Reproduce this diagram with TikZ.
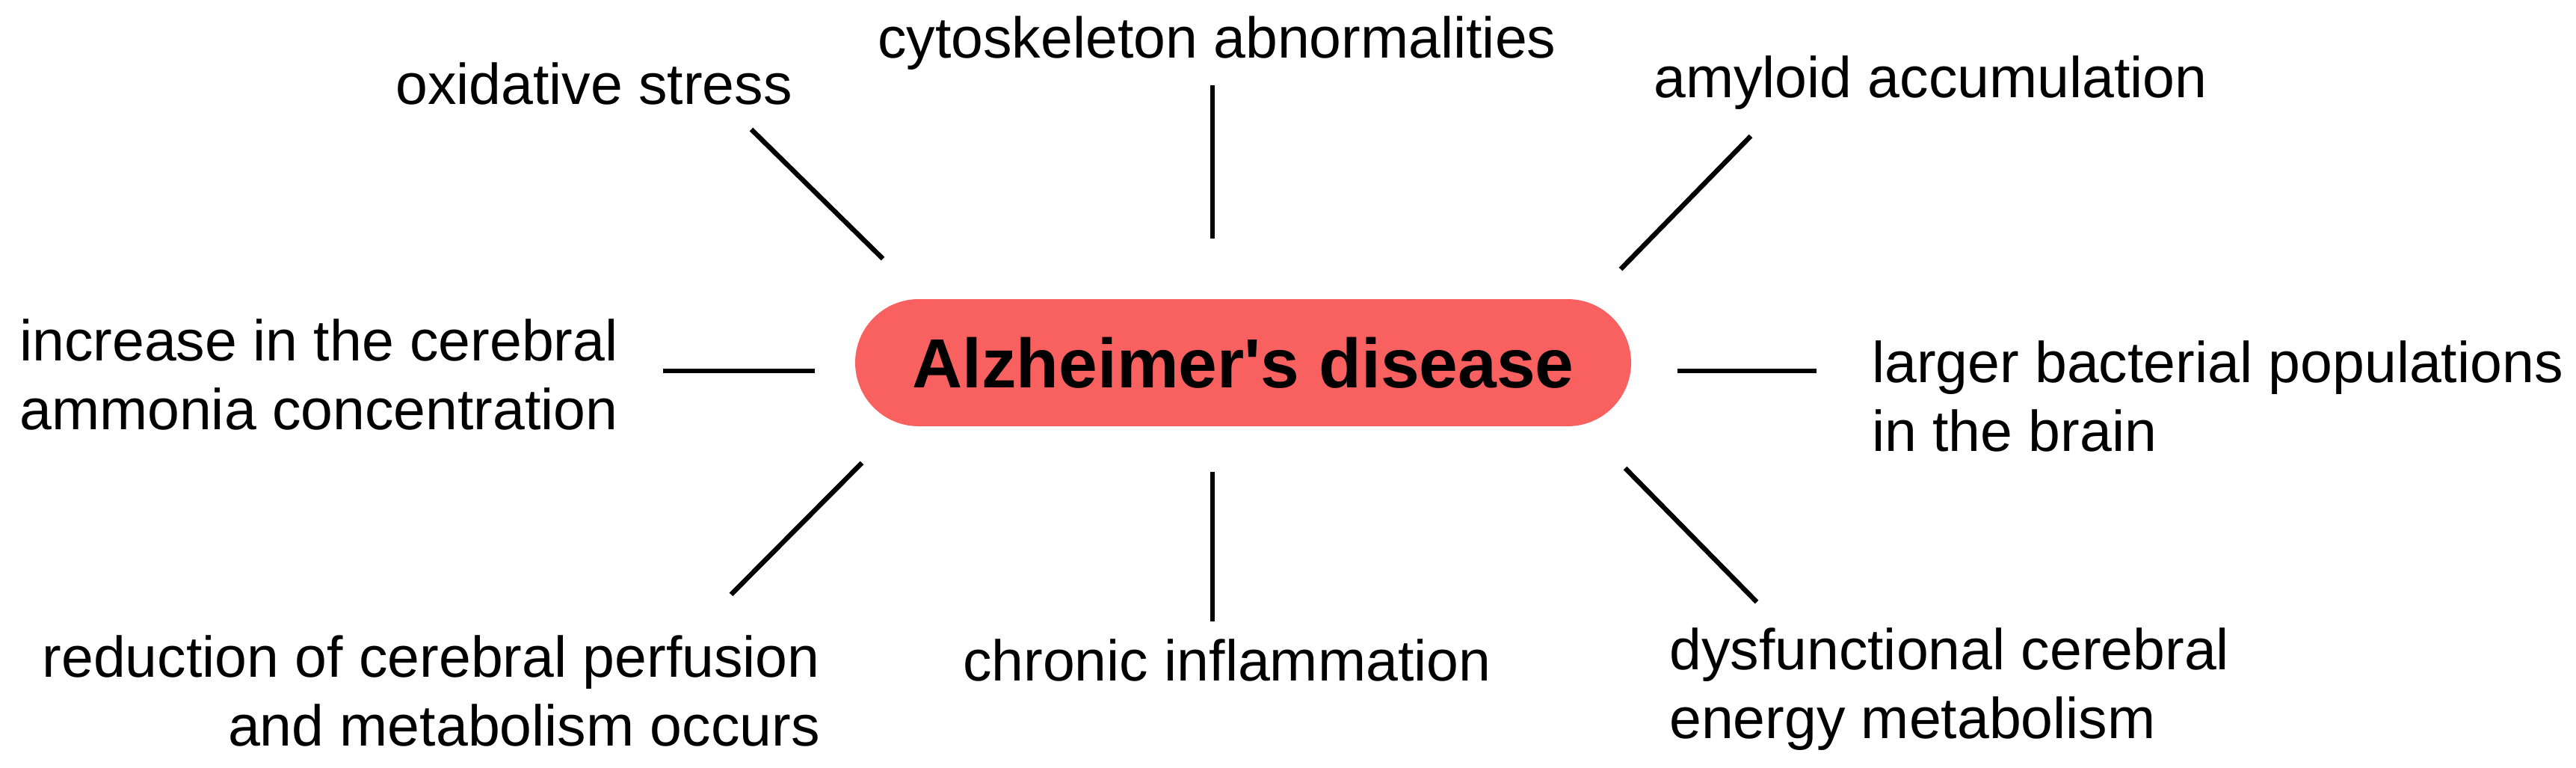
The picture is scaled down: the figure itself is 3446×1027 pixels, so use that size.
\documentclass[tikz,border=0pt]{standalone}
\usepackage{fontspec}
\setmainfont{Liberation Sans}
\definecolor{adred}{RGB}{249,96,96}
\tikzset{
  lbl/.style={inner sep=0pt, font=\fontsize{77}{92}\selectfont},
  conn/.style={line width=6.5pt, black},
  hub/.style={fill=adred, draw=none, rounded corners=85pt, minimum width=1038pt, minimum height=170pt, inner sep=0pt, font=\fontsize{93}{110}\selectfont\bfseries}
}
\begin{document}
\begin{tikzpicture}[x=1pt,y=-1pt]
\useasboundingbox (0,0) rectangle (3446,1027);
\node[hub] (ad) at (1663,485) {Alzheimer\textquotesingle s disease};
% labels (multi-line nodes: base anchor = baseline of last line)
\node[lbl, anchor=base west] (ox) at (529,140) {oxidative stress};
\node[lbl, anchor=base west] (cy) at (1174,78) {cytoskeleton abnormalities};
\node[lbl, anchor=base west] (am) at (2212,131) {amyloid accumulation};
\node[lbl, anchor=base west, align=left] (in) at (26,574) {increase in the cerebral\\ammonia concentration};
\node[lbl, anchor=base west, align=left] (la) at (2504,603) {larger bacterial populations\\in the brain};
\node[lbl, anchor=base east, align=right] (re) at (1097,997) {reduction of cerebral perfusion\\and metabolism occurs};
\node[lbl, anchor=base west] (ch) at (1288,910) {chronic inflammation};
\node[lbl, anchor=base west, align=left] (dy) at (2233,987) {dysfunctional cerebral\\energy metabolism};
% connector ends
\coordinate (ox1) at (1005,173); \coordinate (ox2) at (1181,346);
\coordinate (cy1) at (1622,114); \coordinate (cy2) at (1622,319);
\coordinate (am1) at (2342,182); \coordinate (am2) at (2168,360);
\coordinate (in1) at (887,496);  \coordinate (in2) at (1090,496);
\coordinate (la1) at (2244,496); \coordinate (la2) at (2430,496);
\coordinate (re1) at (1153,619); \coordinate (re2) at (978,795);
\coordinate (ch1) at (1622,631); \coordinate (ch2) at (1622,831);
\coordinate (dy1) at (2174,626); \coordinate (dy2) at (2350,805);
\draw[conn] (ox1) -- (ox2);
\draw[conn] (cy1) -- (cy2);
\draw[conn] (am1) -- (am2);
\draw[conn] (in1) -- (in2);
\draw[conn] (la1) -- (la2);
\draw[conn] (re1) -- (re2);
\draw[conn] (ch1) -- (ch2);
\draw[conn] (dy1) -- (dy2);
\end{tikzpicture}
\end{document}
